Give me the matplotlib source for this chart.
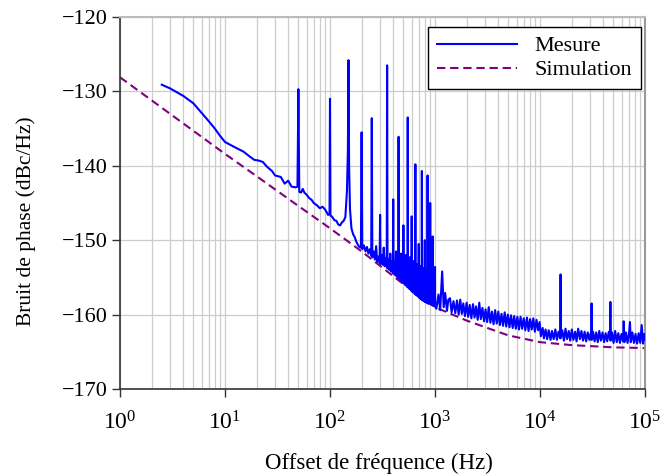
import matplotlib
matplotlib.use('Agg')
import matplotlib.pyplot as plt
from matplotlib.ticker import LogLocator, NullFormatter, FixedLocator

# ---------------- data ----------------
sim_f = [1, 2, 5, 10, 20, 50, 100, 200, 500, 1000, 2000, 5000, 10000, 20000, 50000, 100000]
sim_db = [-128.1, -131.2, -135.3, -138.4, -141.4, -145.4, -148.4, -151.5, -155.9, -159.0,
          -160.8, -162.8, -163.7, -164.1, -164.4, -164.5]

# measured trace, segment A: 2.5 Hz - 135 Hz
meas_f_a = [2.5, 3, 4, 5, 6, 7, 8, 9, 10, 12,
            15, 17, 19, 21, 23, 25, 27, 28, 30, 32,
            34, 37, 40, 43, 47, 49, 50, 51, 53, 55,
            57, 60, 63, 67, 70, 75, 80, 85, 90, 96,
            99, 100, 101, 104, 110, 115, 120, 125, 130, 135]
meas_db_a = [-129.1, -129.6, -130.6, -131.6, -132.9, -134.0, -135.0, -136.0, -136.8, -137.4,
             -138.1, -138.7, -139.2, -139.3, -139.5, -140.1, -140.5, -140.7, -141.3, -141.4,
             -141.5, -142.4, -142.0, -142.8, -142.9, -142.8, -129.7, -143.5, -143.6, -143.1,
             -143.6, -143.9, -144.3, -144.6, -145.0, -145.3, -145.7, -145.5, -145.9, -146.6,
             -146.4, -131.0, -146.7, -146.8, -147.3, -147.4, -147.9, -148.0, -147.6, -147.4]

# segment B: 140 Hz - 997 Hz (50 Hz harmonics)
meas_f_b = [140, 145, 148, 150, 152, 155, 160, 166, 172, 178, 184, 190, 197,
            200, 203, 210, 218, 225, 232, 240, 247,
            250, 253, 260, 268, 275, 282, 290, 297,
            300, 303, 310, 318, 325, 332, 340, 347,
            350, 353, 360, 368, 375, 382, 390, 397,
            400, 403, 410, 418, 425, 432, 440, 447,
            450, 453, 460, 468, 475, 482, 490, 497,
            500, 503, 510, 518, 525, 532, 540, 547,
            550, 553, 560, 568, 575, 582, 590, 597,
            600, 603, 610, 618, 625, 632, 640, 647,
            650, 653, 660, 668, 675, 682, 690, 697,
            700, 703, 710, 718, 725, 732, 740, 747,
            750, 753, 760, 768, 775, 782, 790, 797,
            800, 803, 810, 818, 825, 832, 840, 847,
            850, 853, 860, 868, 875, 882, 890, 897,
            900, 903, 910, 918, 925, 932, 940, 947,
            950, 953, 960, 968, 975, 982, 990, 997]
meas_db_b = [-146.9, -143.4, -138.0, -125.8, -140.0, -145.8, -148.4, -149.2, -149.6, -150.2,
             -150.6, -150.9, -151.0,
             -135.5, -151.2, -150.7, -151.5, -150.9, -151.8, -151.2, -152.1,
             -133.6, -152.3, -151.5, -152.6, -150.8, -152.9, -152.2, -153.0,
             -146.6, -153.2, -152.0, -153.3, -151.0, -153.5, -152.4, -153.6,
             -126.5, -153.8, -152.6, -154.0, -151.8, -154.2, -152.8, -154.4,
             -144.5, -154.5, -153.0, -154.7, -151.5, -154.9, -153.2, -155.1,
             -136.1, -155.2, -153.3, -155.4, -151.8, -155.5, -153.6, -155.7,
             -148.0, -155.8, -153.5, -156.0, -152.0, -156.1, -154.0, -156.2,
             -133.5, -156.3, -154.2, -156.5, -152.3, -156.6, -154.3, -156.8,
             -146.8, -156.9, -154.8, -157.0, -152.8, -157.1, -155.0, -157.2,
             -139.8, -157.3, -155.0, -157.4, -153.2, -157.5, -155.3, -157.6,
             -150.5, -157.7, -155.4, -157.8, -153.5, -157.9, -155.6, -158.0,
             -140.7, -158.0, -155.5, -158.1, -153.8, -158.2, -155.8, -158.2,
             -150.0, -158.3, -156.0, -158.3, -154.0, -158.4, -156.2, -158.4,
             -141.3, -158.5, -156.0, -158.5, -154.3, -158.5, -156.4, -158.6,
             -145.0, -158.6, -156.5, -158.6, -154.5, -158.7, -156.7, -158.7,
             -149.5, -158.7, -156.5, -158.8, -155.0, -158.8, -157.0, -158.8]

# segment C: 1 kHz - 10 kHz
meas_f_c = [1000, 1003, 1030, 1080, 1120, 1170, 1210, 1250, 1300, 1340,
            1390, 1440, 1500, 1560, 1620, 1680, 1740, 1800, 1860, 1930,
            2000, 2070, 2140, 2220, 2300, 2380, 2460, 2550, 2640, 2730,
            2830, 2930, 3030, 3140, 3250, 3370, 3490, 3610, 3740, 3870,
            4010, 4150, 4300, 4450, 4610, 4770, 4940, 5120, 5300, 5490,
            5680, 5880, 6090, 6310, 6530, 6760, 7000, 7250, 7510, 7780,
            8050, 8340, 8640, 8940, 9260, 9590, 9900]
meas_db_c = [-153.6, -158.9, -159.2, -157.3, -159.4, -154.2, -159.0, -157.1, -159.5, -158.0,
             -157.8, -159.7, -158.2, -159.8, -158.1, -160.0, -158.0, -159.9, -158.5, -160.2,
             -158.4, -160.3, -158.7, -160.5, -158.6, -160.4, -158.9, -160.7, -158.4, -160.6,
             -159.1, -160.9, -159.3, -161.0, -159.0, -161.1, -159.6, -161.3, -159.4, -161.2,
             -159.6, -161.4, -159.9, -161.5, -159.7, -161.6, -160.0, -161.7, -160.1, -161.8,
             -160.2, -161.9, -160.3, -162.0, -160.3, -161.9, -160.5, -162.1, -160.4, -162.2,
             -160.6, -162.0, -160.5, -162.3, -160.7, -162.1, -161.0]

# segment D: 10 kHz - 100 kHz
meas_f_d = [10200, 10600, 10900, 11300, 11700, 12100, 12600, 13000, 13500, 14000,
            14500, 15000, 15600, 15700, 15800, 16300, 16900, 17500, 18100, 18800,
            19400, 20100, 20800, 21600, 22300, 23100, 24000, 24800, 25700, 26600,
            27500, 28500, 29500, 30500, 30900, 31000, 31100, 32000, 33100, 34300,
            35500, 36700, 38000, 39400, 40800, 42200, 43700, 45200, 46600, 46800,
            47000, 48500, 50200, 52000, 53800, 55700, 57700, 59700, 61800, 62700,
            63600, 65900, 68200, 70500, 71900, 73200, 75800, 78500, 81200, 84100,
            87000, 90100, 93000, 95800, 98000, 100000]
meas_db_d = [-162.9, -161.8, -163.2, -162.0, -163.3, -162.1, -163.4, -162.2, -163.3, -162.0,
             -163.4, -162.3, -163.2, -154.6, -163.1, -162.1, -163.5, -161.9, -163.3, -162.2,
             -163.5, -162.0, -163.4, -162.3, -163.6, -161.9, -163.3, -162.2, -163.5, -162.3,
             -163.6, -162.4, -163.4, -162.5, -163.3, -158.5, -163.4, -162.3, -163.6, -162.4,
             -163.7, -162.2, -163.5, -162.4, -163.7, -162.5, -163.6, -162.3, -163.3, -158.3,
             -163.5, -162.4, -163.8, -162.2, -163.7, -162.5, -163.8, -162.6, -163.6, -160.9,
             -163.7, -162.4, -163.8, -162.5, -161.0, -163.7, -162.4, -163.8, -162.6, -163.9,
             -162.5, -163.8, -161.4, -163.9, -162.6, -163.4]

meas_f = meas_f_a + meas_f_b + meas_f_c + meas_f_d
meas_db = meas_db_a + meas_db_b + meas_db_c + meas_db_d

x_ticks = [1, 10, 100, 1000, 10000, 100000]
y_ticks = [-170, -160, -150, -140, -130, -120]

# ---------------- plot ----------------
plt.rcParams['font.family'] = ['Liberation Serif', 'DejaVu Serif']
plt.rcParams['mathtext.fontset'] = 'stix'

fig = plt.figure(figsize=(6.72, 4.74), dpi=100)
ax = fig.add_axes([120 / 672, 85 / 474, 525 / 672, 372 / 474])

ax.plot(meas_f, meas_db, color='#0000ff', lw=1.5, label='Mesure', zorder=3)
ax.plot(sim_f, sim_db, color='#800080', lw=1.5, ls=(0, (4, 2.3)), label='Simulation', zorder=2)

ax.set_xscale('log')
ax.set_xlim(1, 1e5)
ax.set_ylim(-170, -120)
ax.xaxis.set_major_locator(FixedLocator(x_ticks))
ax.xaxis.set_minor_locator(LogLocator(base=10, subs=range(2, 10), numticks=50))
ax.xaxis.set_minor_formatter(NullFormatter())
ax.set_yticks(y_ticks)

ax.grid(which='both', axis='x', color='#cccccc', lw=0.9, zorder=0)
ax.grid(which='major', axis='y', color='#cccccc', lw=0.9, zorder=0)
ax.set_axisbelow(True)
ax.tick_params(which='minor', length=0)
ax.tick_params(which='major', direction='out', length=5.8, width=1, labelsize=16,
               color='#333333')
ax.tick_params(axis='x', which='major', pad=10, labelsize=17)
ax.tick_params(axis='y', which='major', pad=3)

for s in ['left', 'bottom']:
    ax.spines[s].set_color('#333333')
    ax.spines[s].set_linewidth(1.2)
ax.spines['top'].set_color('#bbbbbb')
ax.spines['top'].set_linewidth(1.5)
ax.spines['right'].set_color('#999999')
ax.spines['right'].set_linewidth(1.5)

ax.set_xlabel('Offset de fréquence (Hz)', fontsize=16.5)
ax.set_ylabel('Bruit de phase (dBc/Hz)', fontsize=15.5)
ax.xaxis.set_label_coords(0.494, -0.172)
ax.yaxis.set_label_coords(-0.16, 0.452)

leg = ax.legend(loc='upper right', bbox_to_anchor=(0.9924, 0.973), borderaxespad=0,
                fontsize=16, frameon=True, fancybox=False, handlelength=3.6,
                handletextpad=0.8, borderpad=0.4, labelspacing=0.15)
leg.get_frame().set_edgecolor('black')
leg.get_frame().set_linewidth(1.0)
leg.get_frame().set_alpha(1)

fig.savefig('out.png', dpi=100)
